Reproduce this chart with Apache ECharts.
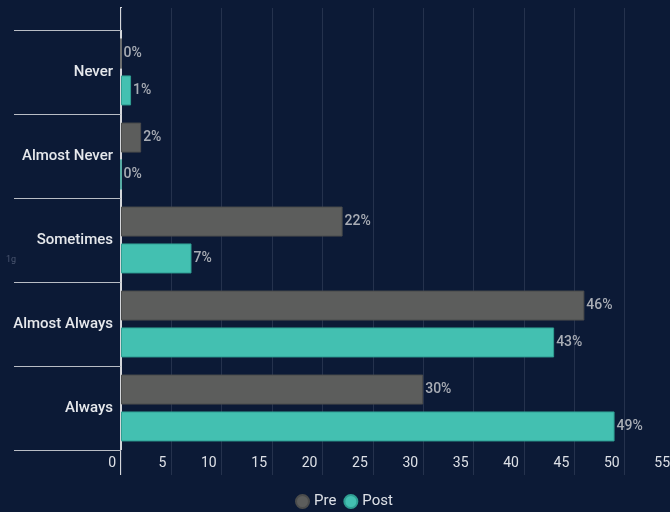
<!DOCTYPE html>
<html>
<head>
<meta charset="utf-8">
<script src="https://cdn.jsdelivr.net/npm/echarts@6/dist/echarts.min.js"></script>
<style>
  html, body { margin: 0; padding: 0; background: #0c1a36; }
  #chart { width: 670px; height: 512px; }
</style>
</head>
<body>
<div id="chart"></div>
<script>
const categories = ['Never', 'Almost Never', 'Sometimes', 'Almost Always', 'Always']
const preValues = [0, 2, 22, 46, 30]
const postValues = [1, 0, 7, 43, 49]
const xTicks = { min: 0, max: 55, interval: 5 }

const chart = echarts.init(document.getElementById('chart'))
const font = 'Roboto, "Noto Sans", sans-serif'
const grid = '#25324d'

function bar(name, data, color, border) {
  return {
    name,
    type: 'bar',
    data,
    barWidth: 30,
    barGap: '23%',
    itemStyle: { color, borderColor: border, borderWidth: 1 },
    label: {
      show: true,
      position: 'right',
      distance: 2,
      formatter: '{c}%',
      color: '#a9adb5',
      fontSize: 14,
      fontWeight: 500,
      fontFamily: font
    }
  }
}

chart.setOption({
  backgroundColor: '#0c1a36',
  animation: false,
  grid: { left: 121, width: 554, top: 30, bottom: 62, outerBoundsMode: 'none', containLabel: false },
  legend: {
    bottom: -2,
    left: 290,
    icon: 'circle',
    itemWidth: 13,
    itemHeight: 13,
    itemGap: 7,
    textStyle: { color: '#dde0e6', fontSize: 15, fontFamily: font }
  },
  xAxis: [
    {
      type: 'value',
      ...xTicks,
      axisLine: { show: false },
      axisTick: { show: true, length: 25, lineStyle: { color: grid } },
      splitLine: { lineStyle: { color: grid } },
      axisLabel: {
        color: '#dde0e6',
        fontSize: 14,
        fontFamily: font,
        align: 'right',
        padding: [0, 5, 0, 0],
        margin: 6
      }
    },
    {
      type: 'value',
      position: 'top',
      ...xTicks,
      axisLine: { show: false },
      axisTick: { show: true, length: 22, lineStyle: { color: grid } },
      splitLine: { show: false },
      axisLabel: { show: false }
    }
  ],
  yAxis: {
    type: 'category',
    inverse: true,
    data: categories,
    axisLine: { show: true, lineStyle: { color: '#d4d6da', width: 2 } },
    axisTick: { show: true, length: 107, lineStyle: { color: '#b9bdc5', width: 1 } },
    axisLabel: {
      color: '#e6e8ec',
      fontSize: 15,
      fontWeight: 500,
      fontFamily: font,
      margin: 8
    }
  },
  series: [
    bar('Pre', preValues, '#5c5d5c', '#4b4c4c'),
    bar('Post', postValues, '#43c0b1', '#2f9e92')
  ]
})

// stretch the value-axis baseline past the plot, as in the original
const x0 = chart.convertToPixel({ xAxisIndex: 0 }, 0)
chart.setOption({
  graphic: [
    { type: 'line', shape: { x1: x0, y1: 7, x2: x0, y2: 31 }, style: { stroke: '#d4d6da', lineWidth: 2 } },
    { type: 'line', shape: { x1: x0, y1: 449, x2: x0, y2: 475 }, style: { stroke: '#d4d6da', lineWidth: 2 } },
    { type: 'text', left: 6, top: 255, style: { text: '1g', fill: '#4b5670', fontSize: 9, fontFamily: font } }
  ]
})
</script>
</body>
</html>
